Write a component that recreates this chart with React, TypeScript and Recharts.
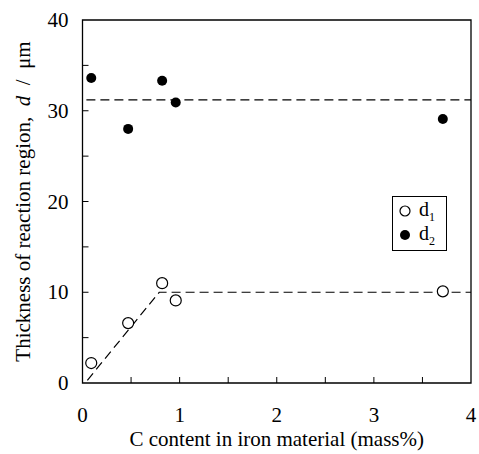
import { ComposedChart, Scatter, Line, XAxis, YAxis, ReferenceArea, Legend } from 'recharts';

// carbon content (mass%) of each specimen
const carbon = [0.09, 0.47, 0.82, 0.96, 3.71];
const d1Values = [2.2, 6.6, 11.0, 9.1, 10.1];
const d2Values = [33.6, 28.0, 33.3, 30.9, 29.1];

// dashed guide lines
const d1FitX = [0.05, 0.79, 4];
const d1FitY = [0.3, 10, 10];
const d2FitX = [0.04, 4];
const d2FitY = [31.2, 31.2];

const xTicks = [0, 0.5, 1, 1.5, 2, 2.5, 3, 3.5, 4];
const yTicks = [0, 5, 10, 15, 20, 25, 30, 35, 40];

const d1Data = carbon.map((x, i) => ({ x, y: d1Values[i] }));
const d2Data = carbon.map((x, i) => ({ x, y: d2Values[i] }));
const d1Fit = d1FitX.map((x, i) => ({ x, y: d1FitY[i] }));
const d2Fit = d2FitX.map((x, i) => ({ x, y: d2FitY[i] }));

const FONT = '"Liberation Serif", "Times New Roman", serif';

const XTick = (props: any) => {
  const { x, y, payload } = props;
  const v = payload.value;
  const major = Number.isInteger(v);
  return (
    <g>
      {v > 0 && v < 4 && <line x1={x} x2={x} y1={y} y2={y - 6} stroke="#000" strokeWidth={1} />}
      {major && (
        <text x={x} y={y + 39} textAnchor="middle" fontFamily={FONT} fontSize={21} fill="#000">
          {v}
        </text>
      )}
    </g>
  );
};

const YTick = (props: any) => {
  const { x, y, payload } = props;
  const v = payload.value;
  const major = v % 10 === 0;
  return (
    <g>
      {v > 0 && v < 40 && <line x1={x} x2={x + 6} y1={y} y2={y} stroke="#000" strokeWidth={1} />}
      {major && (
        <text x={x - 14} y={y + 7} textAnchor="end" fontFamily={FONT} fontSize={21} fill="#000">
          {v}
        </text>
      )}
    </g>
  );
};

const YLabel = (props: any) => {
  const vb = props.viewBox || { x: 0, y: 0, height: 0 };
  const cx = vb.x + 30;
  const cy = vb.y + vb.height / 2;
  return (
    <text
      x={cx}
      y={cy}
      transform={`rotate(-90 ${cx} ${cy})`}
      textAnchor="middle"
      fontFamily={FONT}
      fontSize={21}
      fill="#000"
    >
      {'Thickness of reaction region,\u00A0 '}
      <tspan fontStyle="italic">d</tspan>
      {'\u00A0 /\u00A0 μm'}
    </text>
  );
};

const XLabel = (props: any) => {
  const vb = props.viewBox || { x: 0, y: 0, width: 0 };
  return (
    <text x={vb.x + vb.width / 2} y={vb.y + 63} textAnchor="middle" fontFamily={FONT} fontSize={21} fill="#000">
      C content in iron material (mass%)
    </text>
  );
};

const LegendBox = () => (
  <div
    style={{
      border: '1.3px solid #000',
      width: 55,
      height: 55,
      boxSizing: 'border-box',
      background: '#fff',
      fontFamily: FONT,
      fontSize: 20,
      color: '#000',
      paddingTop: 2,
    }}
  >
    <div style={{ display: 'flex', alignItems: 'center', height: 24 }}>
      <svg width={26} height={14}>
        <circle cx={12} cy={7} r={5} fill="#fff" stroke="#000" strokeWidth={1.2} />
      </svg>
      <span>
        d<sub style={{ fontSize: 12 }}>1</sub>
      </span>
    </div>
    <div style={{ display: 'flex', alignItems: 'center', height: 24 }}>
      <svg width={26} height={14}>
        <circle cx={12} cy={7} r={5} fill="#000" />
      </svg>
      <span>
        d<sub style={{ fontSize: 12 }}>2</sub>
      </span>
    </div>
  </div>
);

export default function App() {
  return (
    <div style={{ position: 'absolute', left: 0, top: 0, background: '#fff' }}>
      <ComposedChart width={479} height={454} margin={{ top: 20, right: 8, bottom: 0, left: 0 }}>
        <XAxis
          dataKey="x"
          type="number"
          domain={[0, 4]}
          ticks={xTicks}
          interval={0}
          height={71}
          axisLine={false}
          tickLine={false}
          tickSize={0}
          tickMargin={0}
          tick={<XTick />}
          label={<XLabel />}
        />
        <YAxis
          dataKey="y"
          type="number"
          domain={[0, 40]}
          ticks={yTicks}
          interval={0}
          width={82.5}
          axisLine={false}
          tickLine={false}
          tickSize={0}
          tickMargin={0}
          tick={<YTick />}
          label={<YLabel />}
        />
        <ReferenceArea x1={0} x2={4} y1={0} y2={40} fill="none" stroke="#000" strokeWidth={1.3} />
        <Line
          data={d2Fit}
          dataKey="y"
          type="linear"
          stroke="#000"
          strokeWidth={1.2}
          strokeDasharray="9 5"
          dot={false}
          activeDot={false}
          isAnimationActive={false}
          legendType="none"
        />
        <Line
          data={d1Fit}
          dataKey="y"
          type="linear"
          stroke="#000"
          strokeWidth={1.2}
          strokeDasharray="9 5"
          dot={false}
          activeDot={false}
          isAnimationActive={false}
          legendType="none"
        />
        <Scatter
          name="d1"
          data={d1Data}
          fill="#fff"
          stroke="#000"
          strokeWidth={1.2}
          shape={(p: any) => <circle cx={p.cx} cy={p.cy} r={5.5} fill="#fff" stroke="#000" strokeWidth={1.2} />}
          isAnimationActive={false}
        />
        <Scatter
          name="d2"
          data={d2Data}
          fill="#000"
          shape={(p: any) => <circle cx={p.cx} cy={p.cy} r={5} fill="#000" />}
          isAnimationActive={false}
        />
        <Legend
          layout="horizontal"
          align="center"
          verticalAlign="middle"
          content={<LegendBox />}
          wrapperStyle={{ position: 'absolute', left: 392, top: 196, width: 56, height: 56 }}
        />
      </ComposedChart>
    </div>
  );
}
